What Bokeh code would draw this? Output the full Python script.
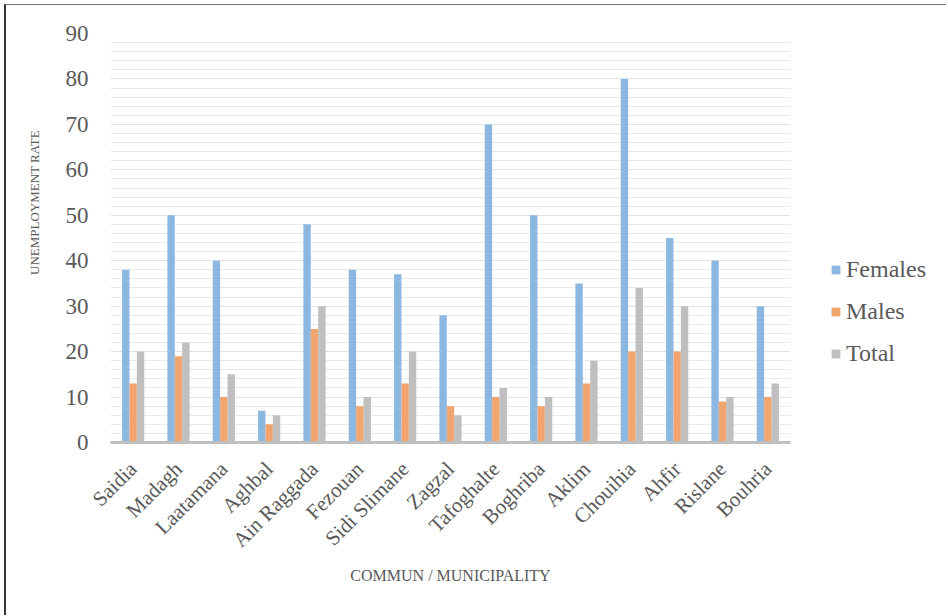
import math
from bokeh.plotting import figure
from bokeh.layouts import row
from bokeh.models import (ColumnDataSource, FactorRange, Legend, LegendItem, Label,
                          SingleIntervalTicker)
from bokeh.transform import dodge
from bokeh.embed import file_html
from bokeh.resources import INLINE

communes = ["Saidia", "Madagh", "Laatamana", "Aghbal", "Ain Raggada", "Fezouan",
            "Sidi Slimane", "Zagzal", "Tafoghalte", "Boghriba", "Aklim", "Chouihia",
            "Ahfir", "Rislane", "Bouhria"]
females = [38, 50, 40, 7, 48, 38, 37, 28, 70, 50, 35, 80, 45, 40, 30]
males = [13, 19, 10, 4, 25, 8, 13, 8, 10, 8, 13, 20, 20, 9, 10]
total = [20, 22, 15, 6, 30, 10, 20, 6, 12, 10, 18, 34, 30, 10, 13]
series_names = ["Females", "Males", "Total"]
colors = ["#8bb7e1", "#f2a46f", "#bfbfbf"]

src = ColumnDataSource(dict(x=communes, Females=females, Males=males, Total=total))

FONT = "Liberation Serif"
TXT = "#595959"

# y-axis title panel (own small figure so the title can sit above centre)
pt = figure(width=50, height=610, output_backend="svg", toolbar_location=None,
            min_border_left=0, min_border_right=0, min_border_top=28, min_border_bottom=173,
            x_range=(0, 50), y_range=(0, 90))
pt.axis.visible = False
pt.grid.visible = False
pt.outline_line_color = None
pt.border_fill_color = "white"
pt.add_layout(Label(x=28, y=52.8, text="UNEMPLOYMENT RATE", angle=math.pi / 2,
                    text_font=FONT, text_font_size="13px", text_color=TXT,
                    text_align="center", text_baseline="middle"))

p = figure(x_range=FactorRange(*communes), y_range=(0, 90),
           width=744, height=610, output_backend="svg", toolbar_location=None,
           min_border_left=54, min_border_right=10, min_border_top=28,
           min_border_bottom=173)
p.outline_line_color = None
p.background_fill_color = "white"
p.border_fill_color = "white"

bw = 0.163
for i, (name, col) in enumerate(zip(series_names, colors)):
    p.vbar(x=dodge("x", (i - 1) * bw, range=p.x_range), top=name, width=bw,
           source=src, fill_color=col, line_color=None)

# axes
p.yaxis.ticker = SingleIntervalTicker(interval=10, num_minor_ticks=5)
p.yaxis.axis_line_color = None
p.yaxis.major_tick_line_color = None
p.yaxis.minor_tick_line_color = None
p.yaxis.major_label_text_font = FONT
p.yaxis.major_label_text_font_size = "23px"
p.yaxis.major_label_text_color = TXT
p.yaxis.major_label_standoff = 16

p.xaxis.axis_line_color = "#bfbfbf"
p.xaxis.axis_line_width = 3
p.xaxis.major_tick_line_color = None
p.xaxis.minor_tick_line_color = None
p.xaxis.major_label_orientation = math.pi / 4
p.xaxis.major_label_text_font = FONT
p.xaxis.major_label_text_font_size = "21px"
p.xaxis.major_label_text_color = TXT
p.xaxis.major_label_standoff = 17
p.xaxis.axis_label = "COMMUN / MUNICIPALITY"
p.xaxis.axis_label_text_font = FONT
p.xaxis.axis_label_text_font_size = "16px"
p.xaxis.axis_label_text_font_style = "normal"
p.xaxis.axis_label_text_color = TXT
p.xaxis.axis_label_standoff = 4

p.xgrid.grid_line_color = None
p.ygrid.grid_line_color = "#e2e2e2"
p.ygrid.grid_line_width = 1
p.ygrid.minor_grid_line_color = "#eaeaea"
p.ygrid.minor_grid_line_width = 1

# legend panel
pl = figure(width=146, height=610, output_backend="svg", toolbar_location=None,
            min_border_left=0, min_border_right=0, min_border_top=0, min_border_bottom=0,
            x_range=(0, 1), y_range=(0, 1))
pl.axis.visible = False
pl.grid.visible = False
pl.outline_line_color = None
pl.border_fill_color = "white"
dummies = [pl.vbar(x=[5], top=[5], width=0.1, fill_color=c, line_color=None) for c in colors]
legend = Legend(items=[LegendItem(label=n, renderers=[r]) for n, r in zip(series_names, dummies)],
                location=(30, 74), orientation="vertical",
                glyph_width=11, glyph_height=11, label_height=30, spacing=12,
                label_standoff=5, padding=0, margin=0,
                label_text_font=FONT, label_text_font_size="24px",
                label_text_color=TXT, border_line_color=None,
                background_fill_alpha=0)
pl.add_layout(legend, "center")

layout = row(pt, p, pl, styles={"margin-left": "4px", "margin-top": "4px",
                                "border-left": "2px solid #333333",
                                "border-top": "1px solid #777777"})

open("out.html", "w").write(file_html(layout, INLINE))
